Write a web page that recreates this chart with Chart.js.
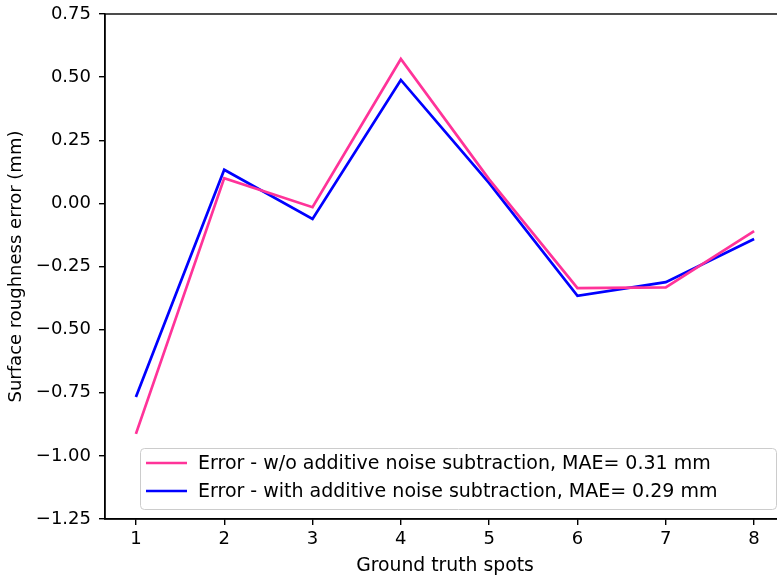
<!DOCTYPE html>
<html>
<head>
<meta charset="utf-8">
<script src="https://cdn.jsdelivr.net/npm/chart.js@4.4.1/dist/chart.umd.min.js"></script>
<style>
  html, body { margin: 0; padding: 0; background: #fff; overflow: hidden; }
  #wrap { width: 795px; height: 578px; }
</style>
</head>
<body>
<div id="wrap"><canvas id="chart"></canvas></div>
<script>
// --- Data ---
const spots = [1, 2, 3, 4, 5, 6, 7, 8];
const errNoSub = [-0.913, 0.100, -0.015, 0.572, 0.095, -0.336, -0.333, -0.110];
const errWithSub = [-0.767, 0.133, -0.062, 0.489, 0.080, -0.366, -0.312, -0.141];
const seriesLabels = [
  'Error - w/o additive noise subtraction, MAE= 0.31 mm',
  'Error - with additive noise subtraction, MAE= 0.29 mm'
];
const seriesColors = ['#ff3399', '#0000ff'];
const yTicks = [-1.25, -1.0, -0.75, -0.5, -0.25, 0, 0.25, 0.5, 0.75];

const FONT = "'DejaVu Sans', sans-serif";

// --- Frame + legend drawn inside the plot area (matplotlib style) ---
const framePlugin = {
  id: 'frame',
  afterDraw(chart) {
    const { ctx, chartArea: a } = chart;
    ctx.save();
    ctx.strokeStyle = '#000';
    ctx.lineWidth = 1.4;
    ctx.strokeRect(a.left, a.top, a.right - a.left, a.bottom - a.top);

    // legend box
    const bx = 140, by = 448, bw = 636, bh = 61;
    ctx.fillStyle = 'rgba(255,255,255,0.8)';
    ctx.strokeStyle = '#cccccc';
    ctx.lineWidth = 1;
    ctx.beginPath();
    ctx.roundRect(bx + 0.5, by + 0.5, bw, bh, 4);
    ctx.fill();
    ctx.stroke();

    ctx.font = '19px ' + FONT;
    ctx.textBaseline = 'middle';
    const rows = [463, 491];
    seriesLabels.forEach((lab, i) => {
      ctx.strokeStyle = seriesColors[i];
      ctx.lineWidth = 2.7;
      ctx.beginPath();
      ctx.moveTo(146, rows[i]);
      ctx.lineTo(187, rows[i]);
      ctx.stroke();
      ctx.fillStyle = '#000';
      ctx.fillText(lab, 198, rows[i] + 1);
    });
    ctx.restore();
  }
};

new Chart(document.getElementById('chart'), {
  type: 'line',
  data: {
    datasets: [
      {
        label: seriesLabels[0],
        data: spots.map((x, i) => ({ x, y: errNoSub[i] })),
        borderColor: seriesColors[0],
        borderWidth: 2.7,
        pointRadius: 0,
        tension: 0
      },
      {
        label: seriesLabels[1],
        data: spots.map((x, i) => ({ x, y: errWithSub[i] })),
        borderColor: seriesColors[1],
        borderWidth: 2.7,
        pointRadius: 0,
        tension: 0
      }
    ]
  },
  options: {
    responsive: true,
    maintainAspectRatio: false,
    animation: false,
    layout: { padding: { top: 14, right: 10, left: 0, bottom: 0 } },
    plugins: {
      legend: { display: false },
      tooltip: { enabled: false }
    },
    scales: {
      x: {
        type: 'linear',
        min: 0.65,
        max: 8.35,
        afterBuildTicks: axis => { axis.ticks = spots.map(v => ({ value: v })); },
        afterFit: s => { s.height = 59; s.paddingLeft = 0; s.paddingRight = 0; },
        grid: { drawOnChartArea: false, drawTicks: true, tickLength: 6, color: '#000', lineWidth: 1.4 },
        border: { display: true, color: '#000', width: 1.4 },
        ticks: {
          color: '#000',
          padding: 4,
          maxRotation: 0,
          font: { family: FONT, size: 18 },
          callback: v => String(v)
        },
        title: {
          display: true,
          text: 'Ground truth spots',
          color: '#000',
          padding: { top: 0, bottom: 1 },
          font: { family: FONT, size: 18.8 }
        }
      },
      y: {
        type: 'linear',
        min: -1.25,
        max: 0.75,
        afterBuildTicks: axis => { axis.ticks = yTicks.map(v => ({ value: v })); },
        afterFit: s => { s.width = 105; s.paddingTop = 0; s.paddingBottom = 0; },
        grid: { drawOnChartArea: false, drawTicks: true, tickLength: 6, color: '#000', lineWidth: 1.4 },
        border: { display: true, color: '#000', width: 1.4 },
        ticks: {
          color: '#000',
          padding: 8,
          font: { family: FONT, size: 18 },
          callback: v => (v < 0 ? '\u2212' : '') + Math.abs(v).toFixed(2)
        },
        title: {
          display: true,
          text: 'Surface roughness error (mm)',
          color: '#000',
          padding: { top: 6, bottom: 0 },
          font: { family: FONT, size: 18 }
        }
      }
    }
  },
  plugins: [framePlugin]
});
</script>
</body>
</html>
